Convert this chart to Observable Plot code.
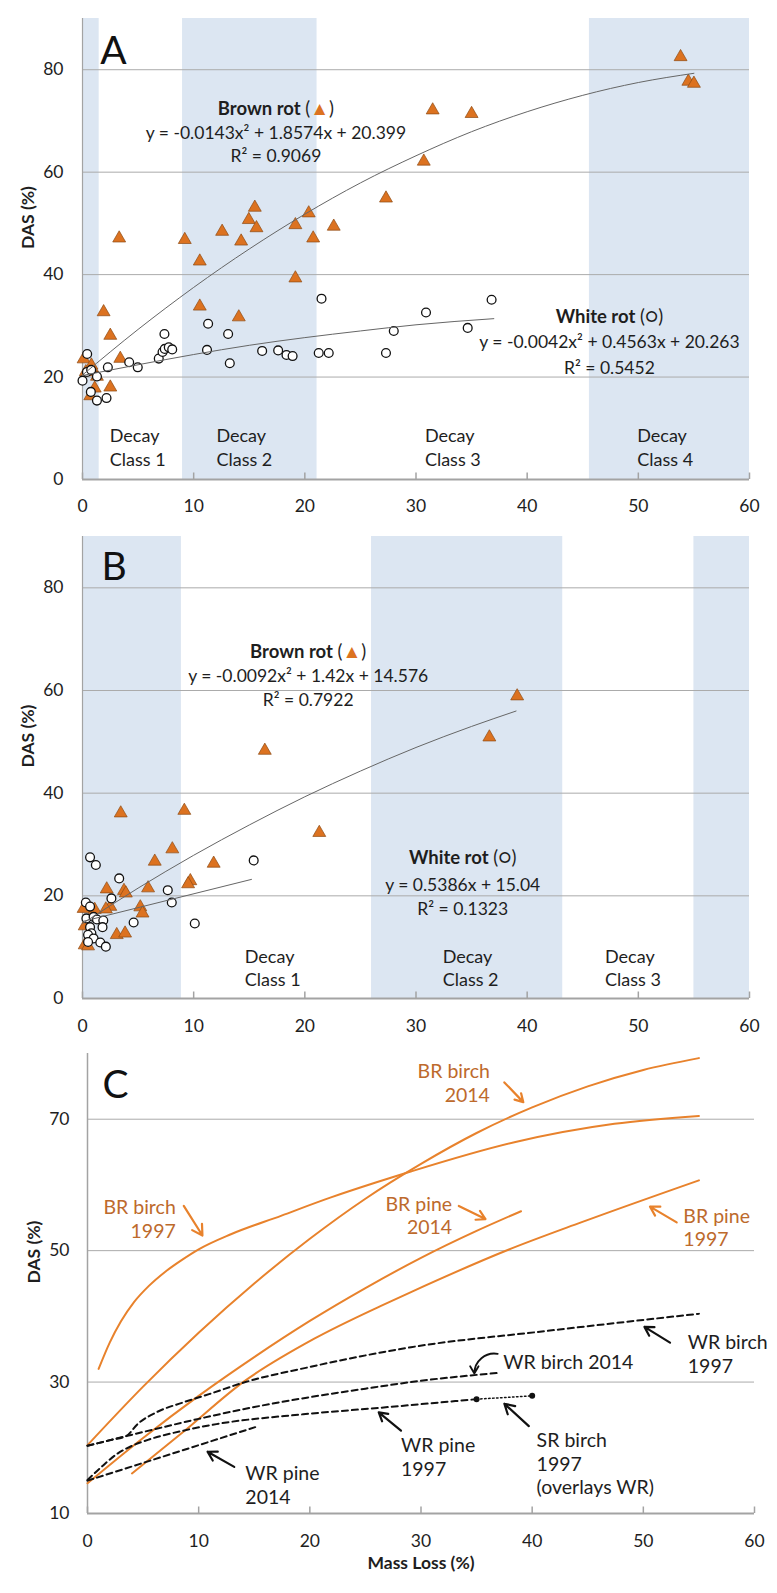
<!DOCTYPE html>
<html><head><meta charset="utf-8">
<script src="https://cdn.jsdelivr.net/npm/d3@7"></script>
<script src="https://cdn.jsdelivr.net/npm/@observablehq/plot@0.6"></script>
<style>
body{margin:0;background:#fff;}
#chart svg{display:block;}
</style></head><body><div id="chart"></div>
<script>
// ---------- shared ticks ----------
const xTicks = [0, 10, 20, 30, 40, 50, 60];
const yTicksAB = [0, 20, 40, 60, 80];
const gridAB = [20, 40, 60, 80];
const yTicksC = [10, 30, 50, 70];
const gridC = [30, 50, 70];

// ---------- Panel A data ----------
const bandsA_start = [0, 9, 45.6];
const bandsA_end = [1.5, 21.1, 60];
const decayA_labels = ["Decay\nClass 1", "Decay\nClass 2", "Decay\nClass 3", "Decay\nClass 4"];
const brownA_x = [0.1,0.3,0.8,1.3,1.1,0.7,1.9,2.5,2.5,3.3,3.4,9.2,10.55,10.55,12.56,14.06,14.27,14.96,15.5,15.65,19.15,19.15,20.35,20.75,22.6,27.3,30.7,31.5,35.0,53.8,54.5,55.0];
const brownA_y = [23.5,21.0,22.3,20.1,17.8,16.3,32.7,28.1,18.0,47.1,23.6,46.8,42.6,33.8,48.4,31.7,46.5,50.7,53.1,49.1,49.7,39.3,52.0,47.1,49.4,54.9,62.1,72.1,71.4,82.5,77.7,77.3];
const whiteA_x = [0.42,0,0.4,0.78,1.3,0.75,1.3,2.16,2.28,4.2,4.97,6.86,7.2,7.37,7.4,7.76,8.07,11.3,11.2,13.1,13.25,16.16,17.6,18.35,18.9,21.5,21.25,22.15,27.3,28.0,30.9,34.65,36.8];
const whiteA_y = [24.5,19.3,21.0,21.4,20.1,17.1,15.4,15.9,21.9,22.9,21.9,23.6,24.9,28.4,25.5,25.8,25.4,30.4,25.3,28.4,22.7,25.1,25.2,24.3,24.1,35.3,24.7,24.7,24.7,29.0,32.6,29.6,35.1];
// fitted trend curves; reused in panel C as the 2014 birch curves
const brownFitA_x = [0,5,10,15,20,25,30,35,40,45,50,55];
const brownFitA_y = [20.4,29.3,37.5,45.0,51.8,57.9,63.2,67.9,71.8,75.0,77.5,79.3];
const whiteFitA_x = [0,5,10,15,20,25,30,37];
const whiteFitA_y = [20.3,22.4,24.4,26.2,27.7,29.0,30.2,31.4];
const titlesA = ["Brown rot (▲)", "White rot (○)"];
const eqA = ["y = -0.0143x² + 1.8574x + 20.399", "R² = 0.9069", "y = -0.0042x² + 0.4563x + 20.263", "R² = 0.5452"];

// ---------- Panel B data ----------
const bandsB_start = [0, 26, 55];
const bandsB_end = [8.9, 43.2, 60];
const decayB_labels = ["Decay\nClass 1", "Decay\nClass 2", "Decay\nClass 3"];
const brownB_x = [3.44,9.16,16.4,21.3,8.08,6.5,11.8,9.7,9.5,5.9,2.18,3.73,3.9,2.5,2.1,5.2,5.4,3.08,3.83,0.2,0.5,0.2,0.1,1.1,39.1,36.6];
const brownB_y = [36.1,36.6,48.3,32.3,29.1,26.7,26.3,22.9,22.3,21.5,21.3,21.0,20.5,17.9,17.4,17.8,16.6,12.4,12.7,10.4,10.2,14.1,17.5,17.3,58.9,50.9];
const whiteB_x = [0.68,1.2,3.3,2.6,0.3,0.68,0.35,1.0,1.3,1.87,1.8,0.68,0.8,0.5,1.0,0.5,1.6,2.1,4.6,7.67,8.03,10.1,15.4];
const whiteB_y = [27.5,26.0,23.4,19.5,18.7,17.9,15.6,15.9,15.4,15.2,13.9,13.9,12.7,12.4,11.7,11.0,10.9,10.1,14.8,21.1,18.7,14.6,26.9];
const brownFitB_x = [0,5,10,15,20,25,30,35,39];
const brownFitB_y = [14.6,21.5,27.9,33.8,39.3,44.3,48.9,53.0,56.0];
const whiteFitB_x = [0,15.2];
const whiteFitB_y = [15.0,23.2];
const titlesB = ["Brown rot (▲)", "White rot (○)"];
const eqB = ["y = -0.0092x² + 1.42x + 14.576", "R² = 0.7922", "y = 0.5386x + 15.04", "R² = 0.1323"];

// ---------- Panel C data ----------
const brBirch1997_x = [1,2,3,4.2,5.5,7,8.5,10,12.9,17.4,21.9,26,29,38.4,47.4,55];
const brBirch1997_y = [32,36.0,39.2,42.2,44.6,46.8,48.6,50.2,52.5,55.3,58.1,60.4,62.0,66.5,69.3,70.5];
const brPine1997_x = [4,8.6,14,20.4,26.4,29.1,37.8,44.4,55];
const brPine1997_y = [16.1,22.4,30,36.6,41.6,43.7,50.1,54.3,60.7];
const wrBirch1997_x = [0,2.1,3.5,4.5,6.2,8.6,11,14,20,26.4,29.1,41.4,55];
const wrBirch1997_y = [20.3,21.2,21.8,23.6,25.4,26.9,28.2,29.9,32.3,34.5,35.3,37.8,40.4];
const wrPine1997_x = [0,1.2,2.6,4,5.6,8.6,11.6,19.4,26.4,35];
const wrPine1997_y = [15.1,17.0,19.0,20.3,21.3,22.6,23.6,25.1,26.1,27.4];
const srBirch1997_x = [35,40];
const srBirch1997_y = [27.4,27.9];
const labelsC_right = ["BR birch\n1997", "BR birch\n2014", "BR pine\n2014"];
const labelsC_leftOrange = ["BR pine\n1997"];
const labelsC_leftBlack = ["WR birch\n1997", "WR birch 2014", "WR pine\n1997", "SR birch\n1997\n(overlays WR)", "WR pine\n2014"];

// ---------- styles ----------
const FONT = "Lato, 'Open Sans', sans-serif";
const BAND = "#dce6f2", GRID = "#ababab", AXIS = "#a3a3a3", TREND = "#666666";
const TRI_FILL = "#dc7220", TRI_STROKE = "#8c4a14";
const LINE_OR = "#e8822c", TEXT_OR = "#bd6a2c", INK = "#1e1e1e";

const zip = (xs, ys) => xs.map((x, i) => ({x, y: ys[i]}));
const bands = (s, e) => s.map((v, i) => ({x1: v, x2: e[i]}));

// annotation anchors (layout, not data)
const layoutA = {
  letter: [{x: 1.6, y: 81.2}],
  titles: [{x: 17.4, y: 72.4}, {x: 47.4, y: 31.8}],
  eq: [{x: 17.4, y: 67.5}, {x: 17.4, y: 63.0}, {x: 47.4, y: 26.7}, {x: 47.4, y: 21.7}],
  decay: [{x: 2.45, y: 6.45}, {x: 12.05, y: 6.45}, {x: 30.8, y: 6.45}, {x: 49.9, y: 6.45}]
};
const layoutB = {
  letter: [{x: 1.7, y: 81.5}],
  titles: [{x: 20.3, y: 67.4}, {x: 34.2, y: 27.3}],
  eq: [{x: 20.3, y: 62.8}, {x: 20.3, y: 58.0}, {x: 34.2, y: 22.1}, {x: 34.2, y: 17.4}],
  decay: [{x: 14.6, y: 6.1}, {x: 32.4, y: 6.1}, {x: 47.0, y: 6.1}]
};

function scatterPanel(cfg) {
  const {height, marginTop, marginBottom, marginLeft, marginRight, letter, L} = cfg;
  const plotH = height - marginTop - marginBottom;
  const withText = (pos, texts) => pos.map((p, i) => ({...p, t: texts[i]}));
  return Plot.plot({
    width: 777, height, marginTop, marginBottom, marginLeft, marginRight,
    style: {fontFamily: FONT, fontSize: "17px", color: INK, background: "#fff"},
    x: {domain: [0, 60]},
    y: {domain: [0, 90]},
    marks: [
      Plot.rect(cfg.bands, {x1: "x1", x2: "x2", fill: BAND}),
      Plot.ruleY(gridAB, {stroke: GRID, strokeWidth: 1}),
      Plot.ruleX([0], {stroke: AXIS, strokeWidth: 1.2}),
      Plot.ruleY([0], {stroke: AXIS, strokeWidth: 1.8}),
      Plot.tickX(xTicks, {x: d => d, insetTop: plotH - 6.5, stroke: AXIS, strokeWidth: 1.5}),
      Plot.axisX({ticks: xTicks, tickSize: 0, tickPadding: cfg.xPad, fontSize: 17.5, label: null}),
      Plot.axisY({ticks: yTicksAB, tickSize: 0, tickPadding: 19, fontSize: 17.5, label: null}),
      Plot.text(["DAS (%)"], {frameAnchor: "left", dx: -54, rotate: -90, fontWeight: "bold", fontSize: 17.5, fill: INK}),
      Plot.dot(cfg.brown, {x: "x", y: "y", symbol: "triangle", r: 4.8, fill: TRI_FILL, stroke: TRI_STROKE, strokeWidth: 0.7}),
      Plot.dot(cfg.white, {x: "x", y: "y", r: 4.4, fill: "#fff", stroke: "#111", strokeWidth: 1.3}),
      Plot.line(cfg.brownFit, {x: "x", y: "y", stroke: TREND, strokeWidth: 1, curve: "monotone-x"}),
      Plot.line(cfg.whiteFit, {x: "x", y: "y", stroke: TREND, strokeWidth: 1, curve: "monotone-x"}),
      Plot.text(L.letter, {x: "x", y: "y", text: () => letter, fontSize: 39, textAnchor: "start", lineAnchor: "bottom", fill: "#111"}),
      Plot.text(withText(L.titles, cfg.titles), {x: "x", y: "y", text: "t", fontSize: 18.5, fontWeight: "bold", fill: INK}),
      Plot.text(withText(L.eq, cfg.eq), {x: "x", y: "y", text: "t", fontSize: 17.5, fill: INK}),
      Plot.text(withText(L.decay, cfg.decay), {x: "x", y: "y", text: "t", fontSize: 18, textAnchor: "start", lineHeight: 1.3, fill: INK})
    ]
  });
}

const plotA = scatterPanel({
  height: 521, marginTop: 18, marginBottom: 42, marginLeft: 82, marginRight: 28, xPad: 20,
  letter: "A", L: layoutA,
  bands: bands(bandsA_start, bandsA_end),
  brown: zip(brownA_x, brownA_y), white: zip(whiteA_x, whiteA_y),
  brownFit: zip(brownFitA_x, brownFitA_y), whiteFit: zip(whiteFitA_x, whiteFitA_y),
  titles: titlesA, eq: eqA, decay: decayA_labels
});
const plotB = scatterPanel({
  height: 522, marginTop: 15, marginBottom: 45, marginLeft: 82, marginRight: 28, xPad: 21,
  letter: "B", L: layoutB,
  bands: bands(bandsB_start, bandsB_end),
  brown: zip(brownB_x, brownB_y), white: zip(whiteB_x, whiteB_y),
  brownFit: zip(brownFitB_x, brownFitB_y), whiteFit: zip(whiteFitB_x, whiteFitB_y),
  titles: titlesB, eq: eqB, decay: decayB_labels
});

// ---------- Panel C ----------
const layoutC = {
  letter: [{x: 1.35, y: 73.2}],
  right: [{x: 7.94, y: 54.9}, {x: 36.2, y: 75.6}, {x: 32.8, y: 55.45}],
  leftOrange: [{x: 53.6, y: 53.6}],
  leftBlack: [{x: 54.0, y: 34.35}, {x: 37.4, y: 33.1}, {x: 28.2, y: 18.65}, {x: 40.4, y: 17.7}, {x: 14.2, y: 14.45}],
  arrowsOrange: [
    {x1: 8.66, y1: 56.8, x2: 10.34, y2: 52.3},
    {x1: 37.5, y1: 75.6, x2: 39.2, y2: 72.6},
    {x1: 33.4, y1: 56.8, x2: 35.8, y2: 54.8},
    {x1: 53.0, y1: 54.3, x2: 50.6, y2: 56.7}
  ],
  arrowsBlack: [
    {x1: 52.4, y1: 36.0, x2: 50.1, y2: 38.4},
    {x1: 28.2, y1: 22.6, x2: 26.2, y2: 25.4},
    {x1: 39.7, y1: 23.3, x2: 37.5, y2: 26.7},
    {x1: 13.2, y1: 17.1, x2: 10.8, y2: 19.4}
  ],
  arrowCurved: [{x1: 36.9, y1: 34.3, x2: 34.8, y2: 31.3}]
};
const withT = (pos, texts) => pos.map((p, i) => ({...p, t: texts[i]}));
const hC = 550, mtC = 10, mbC = 80;
const plotC = Plot.plot({
  width: 777, height: hC, marginTop: mtC, marginBottom: mbC, marginLeft: 87, marginRight: 23,
  style: {fontFamily: FONT, fontSize: "17px", color: INK, background: "#fff"},
  x: {domain: [0, 60]},
  y: {domain: [10, 80]},
  marks: [
    Plot.ruleY(gridC, {stroke: GRID, strokeWidth: 1}),
    Plot.ruleX([0], {stroke: AXIS, strokeWidth: 1.5}),
    Plot.ruleY([10], {stroke: AXIS, strokeWidth: 1.8}),
    Plot.tickX(xTicks, {x: d => d, insetTop: hC - mtC - mbC - 6.5, stroke: AXIS, strokeWidth: 1.5}),
    Plot.axisX({ticks: xTicks, tickSize: 0, tickPadding: 21, fontSize: 17.5, label: null}),
    Plot.axisY({ticks: yTicksC, tickSize: 0, tickPadding: 18, fontSize: 17.5, label: null}),
    Plot.text(["DAS (%)"], {frameAnchor: "left", dx: -53, rotate: -90, fontWeight: "bold", fontSize: 17.5, fill: INK}),
    Plot.text(["Mass Loss (%)"], {frameAnchor: "bottom", dy: 55, fontWeight: "bold", fontSize: 17.5, fill: INK}),
    // brown-rot curves
    Plot.line(zip(brBirch1997_x, brBirch1997_y), {x: "x", y: "y", stroke: LINE_OR, strokeWidth: 2, curve: "monotone-x"}),
    Plot.line(zip(brownFitA_x, brownFitA_y), {x: "x", y: "y", stroke: LINE_OR, strokeWidth: 2, curve: "monotone-x"}),
    Plot.line(zip(brownFitB_x, brownFitB_y), {x: "x", y: "y", stroke: LINE_OR, strokeWidth: 2, curve: "monotone-x"}),
    Plot.line(zip(brPine1997_x, brPine1997_y), {x: "x", y: "y", stroke: LINE_OR, strokeWidth: 2, curve: "monotone-x"}),
    // white-rot curves
    Plot.line(zip(wrBirch1997_x, wrBirch1997_y), {x: "x", y: "y", stroke: "#111", strokeWidth: 2, strokeDasharray: "6,4", curve: "monotone-x"}),
    Plot.line(zip(whiteFitA_x, whiteFitA_y), {x: "x", y: "y", stroke: "#111", strokeWidth: 2, strokeDasharray: "6,4", curve: "monotone-x"}),
    Plot.line(zip(wrPine1997_x, wrPine1997_y), {x: "x", y: "y", stroke: "#111", strokeWidth: 2, strokeDasharray: "6,4", curve: "monotone-x"}),
    Plot.line(zip(whiteFitB_x, whiteFitB_y), {x: "x", y: "y", stroke: "#111", strokeWidth: 2, strokeDasharray: "6,4"}),
    Plot.line(zip(srBirch1997_x, srBirch1997_y), {x: "x", y: "y", stroke: "#111", strokeWidth: 1.5, strokeDasharray: "1.5,2.5"}),
    Plot.dot(zip(srBirch1997_x, srBirch1997_y), {x: "x", y: "y", r: 3, fill: "#111"}),
    // annotations
    Plot.text(layoutC.letter, {x: "x", y: "y", text: () => "C", fontSize: 39, textAnchor: "start", lineAnchor: "bottom", fill: "#111"}),
    Plot.text(withT(layoutC.right, labelsC_right), {x: "x", y: "y", text: "t", fontSize: 19.5, textAnchor: "end", lineHeight: 1.22, fill: TEXT_OR}),
    Plot.text(withT(layoutC.leftOrange, labelsC_leftOrange), {x: "x", y: "y", text: "t", fontSize: 19.5, textAnchor: "start", lineHeight: 1.22, fill: TEXT_OR}),
    Plot.text(withT(layoutC.leftBlack, labelsC_leftBlack), {x: "x", y: "y", text: "t", fontSize: 19.5, textAnchor: "start", lineHeight: 1.22, fill: INK}),
    Plot.arrow(layoutC.arrowsOrange, {x1: "x1", y1: "y1", x2: "x2", y2: "y2", stroke: LINE_OR, strokeWidth: 2.2, headLength: 9}),
    Plot.arrow(layoutC.arrowsBlack, {x1: "x1", y1: "y1", x2: "x2", y2: "y2", stroke: "#111", strokeWidth: 2.2, headLength: 9}),
    Plot.arrow(layoutC.arrowCurved, {x1: "x1", y1: "y1", x2: "x2", y2: "y2", stroke: "#111", strokeWidth: 1.8, headLength: 7, bend: -50})
  ]
});

const root = document.getElementById("chart");
[plotA, plotB, plotC].forEach(p => root.appendChild(p));

// rich text: bold title, regular parenthetical with coloured triangle
const NS = "http://www.w3.org/2000/svg";
root.querySelectorAll("text").forEach(t => {
  const s = t.textContent;
  if (!(s.startsWith("Brown rot") || s.startsWith("White rot"))) return;
  const i = s.indexOf(" (");
  if (i < 0) return;
  const head = s.slice(0, i), tail = s.slice(i);
  t.textContent = head;
  const parts = tail.split(/(▲|○)/);
  parts.forEach(part => {
    if (!part) return;
    const ts = document.createElementNS(NS, "tspan");
    ts.setAttribute("font-weight", "normal");
    if (part === "▲") { ts.setAttribute("fill", TRI_FILL); ts.setAttribute("font-size", "19"); }
    if (part === "○") { ts.setAttribute("font-size", "20"); }
    ts.textContent = part;
    t.appendChild(ts);
  });
});
</script></body></html>
